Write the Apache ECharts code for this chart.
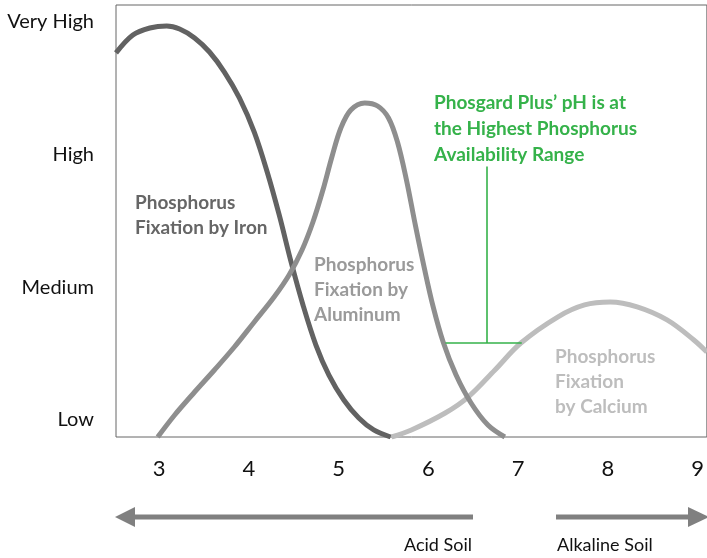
<!DOCTYPE html>
<html>
<head>
<meta charset="utf-8">
<script src="https://cdn.jsdelivr.net/npm/echarts@6/dist/echarts.min.js"></script>
<style>
html,body{margin:0;padding:0;background:#fff;}
#chart{width:707px;height:558px;}
</style>
</head>
<body>
<div id="chart"></div>
<script>
// ---- data ----
const phTicks = [3, 4, 5, 6, 7, 8, 9];
const levelTicks = [1, 2, 3, 4];
const levelNames = ['Low', 'Medium', 'High', 'Very High'];

const ironPH    = [2.518, 2.706, 2.895, 3.083, 3.227, 3.394, 3.560, 3.726, 3.893, 4.059, 4.203, 4.337, 4.469, 4.602, 4.746, 4.891, 5.057, 5.224, 5.390, 5.578];
const ironLevel = [3.766, 3.901, 3.954, 3.969, 3.946, 3.879, 3.773, 3.622, 3.427, 3.170, 2.869, 2.545, 2.191, 1.867, 1.565, 1.339, 1.151, 1.015, 0.925, 0.872];

const aluPH    = [2.983, 3.172, 3.394, 3.615, 3.837, 4.059, 4.280, 4.447, 4.591, 4.713, 4.824, 4.924, 5.024, 5.135, 5.290, 5.434, 5.555, 5.655, 5.755, 5.854, 5.954, 6.053, 6.164, 6.308, 6.475, 6.663, 6.851];
const aluLevel = [0.872, 1.038, 1.211, 1.377, 1.550, 1.739, 1.927, 2.093, 2.281, 2.492, 2.733, 2.982, 3.200, 3.336, 3.389, 3.366, 3.276, 3.095, 2.809, 2.469, 2.145, 1.852, 1.588, 1.339, 1.128, 0.962, 0.872];

const calPH    = [5.588, 5.810, 6.187, 6.442, 6.741, 7.030, 7.440, 7.740, 8.027, 8.326, 8.659, 8.958, 9.103];
const calLevel = [0.872, 0.925, 1.053, 1.173, 1.377, 1.580, 1.776, 1.867, 1.889, 1.852, 1.754, 1.603, 1.512];

// best availability bracket
const rangePH = [6.19, 7.04];
const rangeLevel = 1.58;
const stemPH = 6.65;
const stemTopLevel = 2.91;

const ironLabel = 'Phosphorus\nFixation by Iron';
const aluLabel = 'Phosphorus\nFixation by\nAluminum';
const calLabel = 'Phosphorus\nFixation\nby Calcium';
const noteLabel = 'Phosgard Plus\u2019 pH is at\nthe Highest Phosphorus\nAvailability Range';
const acidLabel = 'Acid Soil';
const alkLabel = 'Alkaline Soil';

// ---- chart ----
const zip = (a, b) => a.map((v, i) => [v, b[i]]);
const FONT = 'Lato, "Open Sans", sans-serif';
const GREEN = '#35b24a';
const ARROW = '#808080';

const chart = echarts.init(document.getElementById('chart'), null, {renderer: 'canvas'});
chart.setOption({
  animation: false,
  backgroundColor: '#fff',
  grid: {left: 116, top: 5, right: -3, bottom: 121, show: true, borderColor: '#666', borderWidth: 1, containLabel: false},
  xAxis: {
    type: 'value', min: 2.518, max: 9.103,
    axisLine: {show: false}, axisTick: {show: false}, splitLine: {show: false},
    axisLabel: {customValues: phTicks, margin: 21, fontFamily: FONT, fontSize: 22, color: '#111'}
  },
  yAxis: {
    type: 'value', min: 0.872, max: 4.127,
    axisLine: {show: false}, axisTick: {show: false}, splitLine: {show: false},
    axisLabel: {customValues: levelTicks, margin: 22, fontFamily: FONT, fontSize: 20, color: '#111',
      formatter: v => levelNames[levelTicks.indexOf(Math.round(v))] || ''}
  },
  series: [
    {type: 'line', name: 'Iron', data: zip(ironPH, ironLevel), smooth: 0.35, symbol: 'none',
      lineStyle: {color: '#626262', width: 5}},
    {type: 'line', name: 'Aluminum', data: zip(aluPH, aluLevel), smooth: 0.35, symbol: 'none',
      lineStyle: {color: '#8e8e8e', width: 5}},
    {type: 'line', name: 'Calcium', data: zip(calPH, calLevel), smooth: 0.35, symbol: 'none', z: 1,
      lineStyle: {color: '#bdbdbd', width: 5},
      markLine: {
        silent: true, symbol: 'none', label: {show: false},
        lineStyle: {color: GREEN, width: 1.6, type: 'solid'},
        data: [
          [{coord: [rangePH[0], rangeLevel]}, {coord: [rangePH[1], rangeLevel]}],
          [{coord: [stemPH, rangeLevel]}, {coord: [stemPH, stemTopLevel]}]
        ]
      }}
  ],
  graphic: [
    {type: 'text', left: 135, top: 190, style: {text: ironLabel, font: 'bold 19px ' + FONT, fill: '#666', lineHeight: 25}},
    {type: 'text', left: 314, top: 252, style: {text: aluLabel, font: 'bold 19px ' + FONT, fill: '#9a9a9a', lineHeight: 25}},
    {type: 'text', left: 555, top: 344, style: {text: calLabel, font: 'bold 19px ' + FONT, fill: '#bdbdbd', lineHeight: 25}},
    {type: 'text', left: 434, top: 90, style: {text: noteLabel, font: 'bold 19px ' + FONT, fill: GREEN, lineHeight: 26}},
    {type: 'line', shape: {x1: 132, y1: 517, x2: 473, y2: 517}, style: {stroke: ARROW, lineWidth: 5}},
    {type: 'polygon', shape: {points: [[115, 517], [135, 507], [135, 527]]}, style: {fill: ARROW}},
    {type: 'line', shape: {x1: 556, y1: 517, x2: 690, y2: 517}, style: {stroke: ARROW, lineWidth: 5}},
    {type: 'polygon', shape: {points: [[688, 507], [709, 517], [688, 527]]}, style: {fill: ARROW}},
    {type: 'text', right: 707 - 472, top: 536, style: {text: acidLabel, font: '18px ' + FONT, fill: '#111'}},
    {type: 'text', left: 557, top: 536, style: {text: alkLabel, font: '18px ' + FONT, fill: '#111'}}
  ]
});
</script>
</body>
</html>
